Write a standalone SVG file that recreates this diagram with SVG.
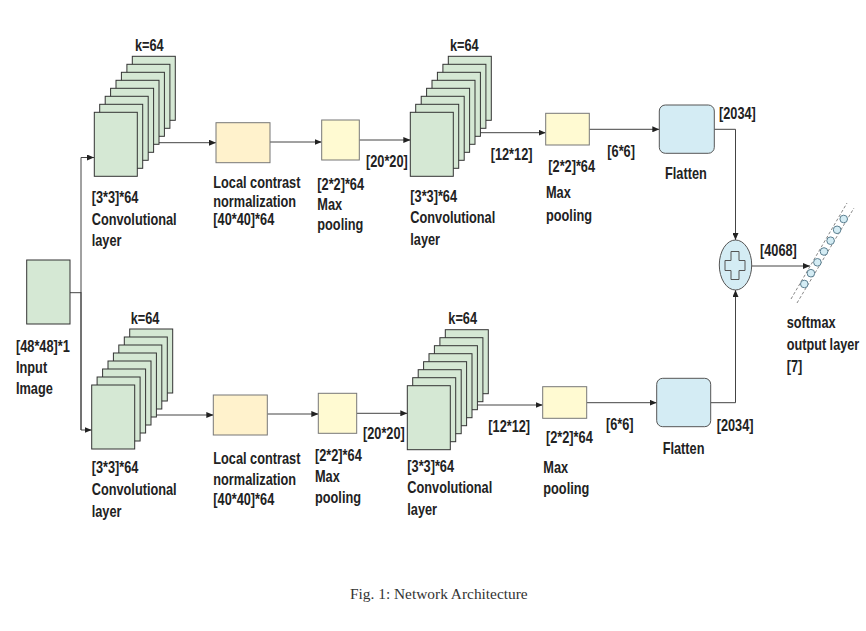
<svg xmlns="http://www.w3.org/2000/svg" xmlns:xlink="http://www.w3.org/1999/xlink" width="866" height="631" viewBox="0 0 866 631">
<defs>
<style>
.t{font-family:"Liberation Sans",Arial,sans-serif;font-size:17px;font-weight:bold;fill:#222}
.cap{font-family:"Liberation Serif","Times New Roman",serif;font-size:14px;fill:#333}
.sheet{fill:#d5e8d4;stroke:#333;stroke-width:1}
.lcn{fill:#fff2cc;stroke:#777;stroke-width:1}
.mp{fill:#fffad2;stroke:#777;stroke-width:1}
.fl{fill:#d4ecf4;stroke:#555;stroke-width:1}
.ln{fill:none;stroke:#444;stroke-width:1}
.dot{fill:#d4ecf4;stroke:#5b7f90;stroke-width:1}
.dash{stroke:#888;stroke-width:1;stroke-dasharray:3 2}
</style>
<marker id="ah" markerWidth="7" markerHeight="6" refX="7" refY="3" orient="auto" markerUnits="userSpaceOnUse">
<path d="M0,0 L7,3 L0,6 z" fill="#222"/>
</marker>
<g id="stack">
<rect class="sheet" x="38" y="-56" width="43" height="64"/>
<rect class="sheet" x="32.6" y="-48" width="43" height="64"/>
<rect class="sheet" x="27.1" y="-40" width="43" height="64"/>
<rect class="sheet" x="21.7" y="-32" width="43" height="64"/>
<rect class="sheet" x="16.3" y="-24" width="43" height="64"/>
<rect class="sheet" x="10.9" y="-16" width="43" height="64"/>
<rect class="sheet" x="5.4" y="-8" width="43" height="64"/>
<rect class="sheet" x="0" y="0" width="43" height="64"/>
</g>
</defs>
<rect width="866" height="631" fill="#fff"/>

<g id="connectors">
<path class="ln" d="M70,292.7 H81"/>
<path class="ln" d="M81,430 V157.5 H94" marker-end="url(#ah)"/>
<path class="ln" d="M81,292 V430 H91.7" marker-end="url(#ah)"/>
<path class="ln" d="M150,142.7 H216" marker-end="url(#ah)"/>
<path class="ln" d="M270,142 H321.7" marker-end="url(#ah)"/>
<path class="ln" d="M359.3,140 H410.3" marker-end="url(#ah)"/>
<path class="ln" d="M470,132.7 H545.7" marker-end="url(#ah)"/>
<path class="ln" d="M589.3,129.3 H659.3" marker-end="url(#ah)"/>
<path class="ln" d="M714.3,129.3 H735.5 V240" marker-end="url(#ah)"/>
<path class="ln" d="M150,415 H213.3" marker-end="url(#ah)"/>
<path class="ln" d="M267.3,414 H318.3" marker-end="url(#ah)"/>
<path class="ln" d="M356.7,413.3 H407.3" marker-end="url(#ah)"/>
<path class="ln" d="M470,405 H542.7" marker-end="url(#ah)"/>
<path class="ln" d="M586.7,402.7 H656.7" marker-end="url(#ah)"/>
<path class="ln" d="M710.7,402.7 H735.5 V290" marker-end="url(#ah)"/>
<path class="ln" d="M751.7,266 H810" marker-end="url(#ah)"/>
</g>

<g id="input">
<rect class="sheet" x="26.7" y="260" width="43.3" height="64"/>
<text class="t" transform="translate(16,351.7) scale(0.75,1)">[48*48]*1</text>
<text class="t" transform="translate(16,372.7) scale(0.75,1)">Input</text>
<text class="t" transform="translate(16,394) scale(0.75,1)">Image</text>
</g>

<g id="conv1-top">
<use xlink:href="#stack" x="94.3" y="112.3"/>
<text class="t" transform="translate(135,51) scale(0.75,1)">k=64</text>
<text class="t" transform="translate(91.7,202.5) scale(0.75,1)">[3*3]*64</text>
<text class="t" transform="translate(91.7,224.5) scale(0.75,1)">Convolutional</text>
<text class="t" transform="translate(91.7,245.5) scale(0.75,1)">layer</text>
</g>

<g id="lcn-top">
<rect class="lcn" x="216" y="122.7" width="54" height="40"/>
<text class="t" transform="translate(213.3,188) scale(0.75,1)">Local contrast</text>
<text class="t" transform="translate(213.3,207.3) scale(0.75,1)">normalization</text>
<text class="t" transform="translate(213.3,225) scale(0.75,1)">[40*40]*64</text>
</g>

<g id="pool1-top">
<rect class="mp" x="321.7" y="120" width="37.6" height="40"/>
<text class="t" transform="translate(317.3,189.5) scale(0.75,1)">[2*2]*64</text>
<text class="t" transform="translate(317.3,210) scale(0.75,1)">Max</text>
<text class="t" transform="translate(317.3,229.5) scale(0.75,1)">pooling</text>
<text class="t" transform="translate(366,166.7) scale(0.75,1)">[20*20]</text>
</g>

<g id="conv2-top">
<use xlink:href="#stack" x="410.3" y="112.3"/>
<text class="t" transform="translate(450,51) scale(0.75,1)">k=64</text>
<text class="t" transform="translate(410.3,201.5) scale(0.75,1)">[3*3]*64</text>
<text class="t" transform="translate(410.3,223) scale(0.75,1)">Convolutional</text>
<text class="t" transform="translate(410.3,245) scale(0.75,1)">layer</text>
<text class="t" transform="translate(490.7,160) scale(0.75,1)">[12*12]</text>
</g>

<g id="pool2-top">
<rect class="mp" x="545.7" y="113.3" width="43.6" height="31.7"/>
<text class="t" transform="translate(548.3,172) scale(0.75,1)">[2*2]*64</text>
<text class="t" transform="translate(546,198) scale(0.75,1)">Max</text>
<text class="t" transform="translate(546,220.5) scale(0.75,1)">pooling</text>
<text class="t" transform="translate(607.3,156.5) scale(0.75,1)">[6*6]</text>
</g>

<g id="flatten-top">
<rect class="fl" x="659.3" y="105" width="55" height="48.3" rx="6"/>
<text class="t" transform="translate(719,119) scale(0.75,1)">[2034]</text>
<text class="t" transform="translate(665,179.3) scale(0.75,1)">Flatten</text>
</g>

<g id="concat">
<ellipse class="fl" cx="735.5" cy="265" rx="16.2" ry="25"/>
<path d="M731,251.5 H739 V260.5 H745 V270.5 H739 V279.5 H731 V270.5 H725 V260.5 H731 Z" fill="none" stroke="#555" stroke-width="1"/>
<text class="t" transform="translate(760,255.5) scale(0.75,1)">[4068]</text>
</g>

<g id="output">
<line class="dash" x1="791" y1="299" x2="847" y2="203"/>
<line class="dash" x1="797" y1="303" x2="854" y2="208"/>
<circle class="dot" cx="804.3" cy="284" r="3.8"/>
<circle class="dot" cx="810.9" cy="273.2" r="3.8"/>
<circle class="dot" cx="817.4" cy="262.3" r="3.8"/>
<circle class="dot" cx="824" cy="251.5" r="3.8"/>
<circle class="dot" cx="830.6" cy="240.7" r="3.8"/>
<circle class="dot" cx="837.1" cy="229.8" r="3.8"/>
<circle class="dot" cx="843.7" cy="219" r="3.8"/>
<text class="t" transform="translate(786.7,327.5) scale(0.75,1)">softmax</text>
<text class="t" transform="translate(786.7,349.8) scale(0.746,1)">output layer</text>
<text class="t" transform="translate(786.7,372) scale(0.75,1)">[7]</text>
</g>

<g id="conv1-bottom">
<use xlink:href="#stack" x="91.7" y="385"/>
<text class="t" transform="translate(130.7,324) scale(0.75,1)">k=64</text>
<text class="t" transform="translate(91.7,472.7) scale(0.75,1)">[3*3]*64</text>
<text class="t" transform="translate(91.7,495) scale(0.75,1)">Convolutional</text>
<text class="t" transform="translate(91.7,516.7) scale(0.75,1)">layer</text>
</g>

<g id="lcn-bottom">
<rect class="lcn" x="213.3" y="395" width="54" height="40"/>
<text class="t" transform="translate(213.3,464) scale(0.75,1)">Local contrast</text>
<text class="t" transform="translate(213.3,485) scale(0.75,1)">normalization</text>
<text class="t" transform="translate(213.3,505) scale(0.75,1)">[40*40]*64</text>
</g>

<g id="pool1-bottom">
<rect class="mp" x="318.3" y="393.3" width="38.4" height="40"/>
<text class="t" transform="translate(315,461) scale(0.75,1)">[2*2]*64</text>
<text class="t" transform="translate(315,481.7) scale(0.75,1)">Max</text>
<text class="t" transform="translate(315,502.7) scale(0.75,1)">pooling</text>
<text class="t" transform="translate(363,439) scale(0.75,1)">[20*20]</text>
</g>

<g id="conv2-bottom">
<use xlink:href="#stack" x="407.3" y="385.7"/>
<text class="t" transform="translate(448.3,324) scale(0.75,1)">k=64</text>
<text class="t" transform="translate(407.3,471.7) scale(0.75,1)">[3*3]*64</text>
<text class="t" transform="translate(407.3,493.3) scale(0.75,1)">Convolutional</text>
<text class="t" transform="translate(407.3,515) scale(0.75,1)">layer</text>
<text class="t" transform="translate(488.3,431.7) scale(0.75,1)">[12*12]</text>
</g>

<g id="pool2-bottom">
<rect class="mp" x="542.7" y="386.7" width="44" height="31.6"/>
<text class="t" transform="translate(546,443.3) scale(0.75,1)">[2*2]*64</text>
<text class="t" transform="translate(543.3,472.7) scale(0.75,1)">Max</text>
<text class="t" transform="translate(543.3,494) scale(0.75,1)">pooling</text>
<text class="t" transform="translate(606,430) scale(0.75,1)">[6*6]</text>
</g>

<g id="flatten-bottom">
<rect class="fl" x="656.7" y="378.3" width="54" height="48.4" rx="6"/>
<text class="t" transform="translate(716.7,430.7) scale(0.75,1)">[2034]</text>
<text class="t" transform="translate(662.7,454) scale(0.75,1)">Flatten</text>
</g>

<text class="cap" x="350" y="599" textLength="177.7" lengthAdjust="spacingAndGlyphs">Fig. 1: Network Architecture</text>
</svg>
